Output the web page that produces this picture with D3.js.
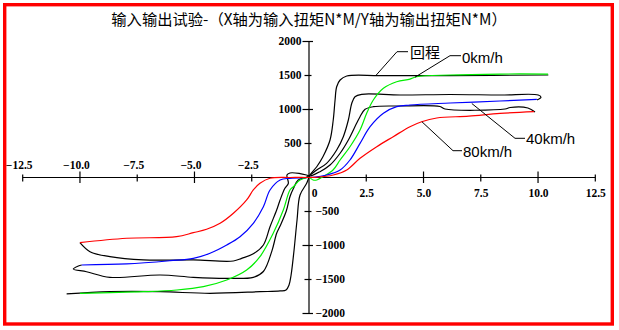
<!DOCTYPE html>
<html><head><meta charset="utf-8">
<script src="https://cdn.jsdelivr.net/npm/d3@7/dist/d3.min.js"></script>
<style>html,body{margin:0;padding:0;background:#fff;}svg{display:block;}</style>
</head><body>
<svg id="c" width="619" height="330"></svg>
<script>
const title = "输入输出试验-（X轴为输入扭矩N*M/Y轴为输出扭矩N*M）";
const xTicksNeg = [-12.5, -10, -7.5, -5, -2.5];
const xTicksPos = [0, 2.5, 5, 7.5, 10, 12.5];
const yTicksPos = [500, 1000, 1500, 2000];
const yTicksNeg = [-500, -1000, -1500, -2000];
const seriesNames = ["0km/h", "40km/h", "80km/h", "回程"];

// forward curves [x, y]
const fwd0 = [[-9.98,-1710],[-7.21,-1687],[-5.76,-1662],[-4.59,-1613],[-3.57,-1515],[-2.70,-1368],[-2.12,-1172],[-1.54,-828],[-1.10,-485],[-0.81,-191],[-0.66,-143],[-0.37,-44],[0.02,-7],[0.2,-44],[0.36,-44],[0.63,4],[1.07,103],[1.38,250],[1.81,445],[2.25,691],[2.54,936],[2.83,1132],[3.27,1304],[3.85,1401],[4.43,1440],[4.72,1474],[6.18,1500],[8.36,1514],[10.46,1514]];
const fwd40 = [[-9.90,-1294],[-7.94,-1279],[-6.05,-1231],[-5.03,-1196],[-4.30,-1122],[-3.57,-1000],[-2.99,-878],[-2.41,-681],[-1.97,-437],[-1.68,-191],[-1.24,-44],[-0.81,-19],[0.02,-7],[0.21,-4],[0.79,29],[1.38,103],[1.81,250],[2.25,495],[2.69,740],[3.27,937],[3.85,1034],[4.43,1059],[6.18,1088],[8.36,1118],[9.97,1143]];
const fwd80 = [[-9.98,-966],[-7.94,-901],[-5.76,-878],[-5.03,-819],[-4.45,-769],[-3.86,-681],[-3.28,-534],[-2.70,-338],[-2.41,-191],[-2.12,-93],[-1.68,-19],[-0.81,-7],[0.02,-7],[0.36,-4],[1.08,29],[1.67,103],[2.25,275],[2.98,446],[3.70,593],[4.43,740],[4.94,813],[5.60,868],[7.0,895],[8.36,935],[9.85,960]];
// return curves (回程)
const ret0 = [[10.47,1500],[6.18,1492],[3.12,1492],[1.67,1485],[1.38,1426],[1.23,1327],[1.16,1132],[1.08,838],[0.94,544],[0.63,298],[0.36,151],[0.07,29],[-0.08,-93],[-0.37,-265],[-0.50,-632],[-0.63,-1073],[-0.76,-1441],[-0.85,-1588],[-0.98,-1662],[-1.24,-1676],[-2.12,-1687],[-4.30,-1710],[-6.48,-1687],[-8.67,-1687],[-10.56,-1720]];
const ret40 = [[9.98,1132],[10.15,1172],[10.03,1206],[8.36,1206],[6.18,1213],[4.0,1206],[2.32,1216],[2.03,1181],[1.89,1084],[1.74,838],[1.52,593],[1.23,397],[0.79,201],[0.36,103],[0.07,29],[-0.1,-5],[-0.45,-44],[-0.66,-170],[-0.81,-290],[-0.97,-500],[-1.24,-720],[-1.39,-828],[-1.60,-1090],[-1.97,-1390],[-2.41,-1475],[-3.57,-1490],[-5.03,-1475],[-6.48,-1441],[-8.67,-1475],[-9.69,-1393],[-10.27,-1353],[-10.05,-1309],[-9.9,-1294]];
const ret80 = [[9.89,956],[9.58,1015],[8.80,1022],[8.58,1000],[5.96,1000],[5.74,1037],[3.97,1044],[2.83,1034],[2.47,995],[2.25,887],[2.10,790],[1.74,544],[1.38,349],[0.94,176],[0.50,78],[0.07,15],[-0.08,29],[-0.37,51],[-0.81,59],[-0.94,29],[-0.88,-93],[-1.03,-166],[-1.24,-338],[-1.39,-485],[-1.68,-731],[-1.97,-1000],[-2.41,-1130],[-2.92,-1196],[-3.28,-1235],[-5.03,-1220],[-7.21,-1220],[-8.67,-1172],[-9.54,-1098],[-9.98,-966]];

const svg = d3.select("#c");
const x = d3.scaleLinear().domain([-12.5, 12.5]).range([22.2, 594.8]);
const y = d3.scaleLinear().domain([-2000, 2000]).range([313, 41]);

// frame
svg.append("rect").attr("x", 4.7).attr("y", 4.7).attr("width", 607.6).attr("height", 319.3)
  .attr("fill", "none").attr("stroke", "#ff0000").attr("stroke-width", 3.4);

// title
svg.append("text").attr("x", 309).attr("y", 25).attr("text-anchor", "middle")
  .attr("font-family", "'Noto Sans CJK SC', sans-serif").attr("font-size", 15.3).attr("fill", "#000")
  .text(title);

const tickFont = "'Liberation Serif', 'DejaVu Serif', serif";

// x axis
const xAxis = svg.append("g").attr("transform", `translate(0,${y(0)})`)
  .call(d3.axisBottom(x).tickValues(xTicksNeg.concat(xTicksPos.slice(1))).tickSize(0).tickFormat(""));
xAxis.select(".domain").attr("stroke", "#000").attr("stroke-width", 1.2);
xAxis.selectAll(".tick line").each(function(d){
  const major = Math.abs(d) % 5 === 0;
  d3.select(this).attr("y1", major ? -5.5 : -2.5).attr("y2", major ? 6 : 4.5).attr("stroke", "#000").attr("stroke-width", 1.2);
});
const xl = svg.append("g").attr("font-family", tickFont).attr("font-weight", "bold").attr("font-size", 11.5).attr("fill", "#000");
xl.selectAll("text.neg").data(xTicksNeg).join("text").attr("class", "neg")
  .attr("x", d => x(d) - 3).attr("y", y(0) - 8).attr("text-anchor", "middle")
  .text(d => "\u2212" + (Math.abs(d) % 1 === 0 ? Math.abs(d).toFixed(1) : Math.abs(d)));
xl.selectAll("text.pos").data(xTicksPos).join("text").attr("class", "pos")
  .attr("x", d => d === 0 ? x(d) + 6 : x(d) + 1).attr("y", y(0) + 20).attr("text-anchor", "middle")
  .text(d => d === 0 ? "0" : (d % 1 === 0 ? d.toFixed(1) : String(d)));

// y axis
const yAxis = svg.append("g").attr("transform", `translate(${x(0)},0)`)
  .call(d3.axisLeft(y).tickValues(yTicksPos.concat(yTicksNeg)).tickSize(0).tickFormat(""));
yAxis.select(".domain").attr("stroke", "#000").attr("stroke-width", 1.2);
yAxis.selectAll(".tick line").each(function(d){
  const major = Math.abs(d) % 1000 === 0;
  d3.select(this).attr("x1", major ? -6 : -4).attr("x2", major ? 4.5 : 3).attr("stroke", "#000").attr("stroke-width", 1.2);
});
const yl = svg.append("g").attr("font-family", tickFont).attr("font-weight", "bold").attr("font-size", 11.5).attr("fill", "#000");
yl.selectAll("text.pos").data(yTicksPos).join("text").attr("class", "pos")
  .attr("x", x(0) - 7).attr("y", d => y(d) + 4).attr("text-anchor", "end").text(d => String(d));
yl.selectAll("text.neg").data(yTicksNeg).join("text").attr("class", "neg")
  .attr("x", x(0) + 7).attr("y", d => y(d) + 4).attr("text-anchor", "start").text(d => "\u2212" + Math.abs(d));

// curves
const line = d3.line().x(d => x(d[0])).y(d => y(d[1])).curve(d3.curveCatmullRom.alpha(0.5));
const curves = [
  {data: ret0, color: "#000000"},
  {data: ret40, color: "#000000"},
  {data: ret80, color: "#000000"},
  {data: fwd0, color: "#00ee00"},
  {data: fwd40, color: "#0000ff"},
  {data: fwd80, color: "#ff0000"}
];
svg.append("g").selectAll("path").data(curves).join("path")
  .attr("d", d => line(d.data)).attr("fill", "none").attr("stroke", d => d.color).attr("stroke-width", 1.2);

// annotations
const notes = [
  {text: seriesNames[3], at: [2.96, 1500], elbow: [397, 51.7], end: [408, 51.7], tx: 410, ty: 58},
  {text: seriesNames[0], at: [4.65, 1468], elbow: [450, 55.7], end: [461, 55.7], tx: 462, ty: 63},
  {text: seriesNames[1], at: [7.13, 1081], elbow: [515, 138.3], end: [525, 138.3], tx: 526, ty: 144},
  {text: seriesNames[2], at: [4.95, 813], elbow: [453, 150.7], end: [462, 150.7], tx: 463, ty: 157}
];
const ng = svg.append("g");
notes.forEach(n => {
  ng.append("path").attr("d", `M${x(n.at[0])},${y(n.at[1])}L${n.elbow[0]},${n.elbow[1]}L${n.end[0]},${n.end[1]}`)
    .attr("fill", "none").attr("stroke", "#000").attr("stroke-width", 1);
  ng.append("text").attr("x", n.tx).attr("y", n.ty)
    .attr("font-family", n.text === "回程" ? "'Noto Sans CJK SC', sans-serif" : "'Liberation Sans', Arial, sans-serif")
    .attr("font-size", 15).attr("fill", "#000").text(n.text);
});
</script>
</body></html>
